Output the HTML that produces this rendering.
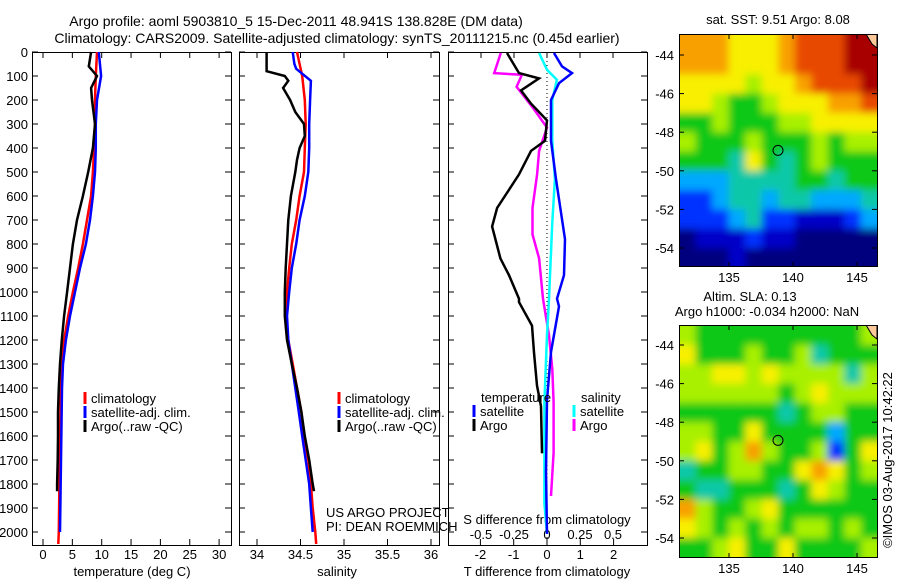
<!DOCTYPE html>
<html><head><meta charset="utf-8">
<style>
html,body{margin:0;padding:0;background:#fff;}
svg{display:block;font-family:"Liberation Sans",sans-serif;}
text{font-size:13px;fill:#000;}
</style></head>
<body>
<svg id="fig" width="900" height="580" viewBox="0 0 900 580" xmlns="http://www.w3.org/2000/svg">
<defs>
<filter id="smooth" filterUnits="userSpaceOnUse" x="600" y="0" width="300" height="580"><feGaussianBlur stdDeviation="4"/></filter>
<clipPath id="clipA"><rect x="679" y="34" width="198" height="233"/></clipPath>
<clipPath id="clipB"><rect x="679" y="325" width="198" height="232"/></clipPath>
</defs>
<text x="296" y="26" text-anchor="middle" style="font-size:14px">Argo profile: aoml 5903810_5 15-Dec-2011 48.941S 138.828E (DM data)</text>
<text x="337" y="43" text-anchor="middle" style="font-size:14px">Climatology: CARS2009. Satellite-adjusted climatology: synTS_20111215.nc (0.45d earlier)</text>
<g id="g"></g>
</svg>
<script>
// ---------- data ----------
const depthT_argo = [0,60,100,150,200,300,400,500,600,700,800,900,1000,1100,1200,1300,1400,1500,1600,1700,1800,1830];
const temp_argo   = [8.2,7.8,9.2,8.2,8.35,8.86,8.5,7.7,6.8,5.8,5.1,4.6,4.1,3.6,3.2,2.9,2.7,2.55,2.55,2.5,2.4,2.4];
const depth_clim  = [0,100,200,300,400,500,600,700,800,900,1000,1100,1200,1300,1400,1600,2000,2050];
const temp_clim   = [9.2,9.0,8.86,8.86,8.7,8.5,8.2,7.5,6.8,6.0,5.1,4.3,3.6,3.2,3.07,2.9,2.7,2.6];
const depth_sat   = [0,100,200,300,400,500,600,700,800,900,1000,1100,1200,1300,1400,2000];
const temp_sat    = [9.5,9.9,9.2,9.0,9.0,8.86,8.5,8.0,7.3,6.3,5.45,4.6,3.9,3.4,3.24,2.9];

const depthS_argo = [0,80,100,120,150,200,250,300,350,400,450,500,600,700,800,900,1000,1100,1200,1300,1400,1500,1600,1700,1800,1830];
const sal_argo    = [34.11,34.11,34.32,34.36,34.30,34.38,34.44,34.54,34.55,34.49,34.46,34.44,34.39,34.36,34.345,34.33,34.32,34.32,34.345,34.40,34.46,34.51,34.55,34.60,34.64,34.655];
const depthS_clim = [0,100,200,300,400,500,600,700,800,900,1000,1100,1200,1300,1400,1500,1600,1700,1800,1900,2000,2050];
const sal_clim    = [34.46,34.52,34.55,34.56,34.55,34.54,34.49,34.45,34.40,34.37,34.345,34.33,34.36,34.41,34.46,34.51,34.54,34.59,34.62,34.64,34.67,34.68];
const depthS_sat  = [0,50,70,120,200,300,400,500,600,700,800,900,1000,1100,1200,1300,1400,1500,1600,1700,1800,1900,2000];
const sal_sat     = [34.41,34.43,34.45,34.62,34.61,34.60,34.60,34.59,34.55,34.49,34.45,34.40,34.37,34.345,34.36,34.40,34.44,34.48,34.52,34.56,34.60,34.62,34.64];

const depthD_targo = [4,88,110,160,215,285,370,412,510,650,727,860,930,1028,1042,1140,1252,1390,1476,1672];
const dT_argo      = [-1.2,-0.84,-0.24,-0.78,-0.48,0,-0.06,-0.48,-0.84,-1.5,-1.65,-1.4,-1.14,-0.84,-0.84,-0.45,-0.39,-0.3,-0.18,-0.15];
const depthD_tsat  = [4,60,88,130,200,370,530,780,930,1028,1060,1250,1450,1750,2008];
const dT_sat       = [0.21,0.45,0.75,0.36,0.12,0.12,0.27,0.54,0.51,0.3,0.36,0.12,0,-0.03,0];
const depthD_sargo = [4,88,95,145,230,315,412,510,650,760,860,1028,1180,1320,1460,1670,1850];
const dS_argo      = [-0.35,-0.4,-0.19,-0.23,-0.11,0,-0.06,-0.075,-0.11,-0.11,-0.06,-0.03,0.015,0.04,0.05,0.05,0.03];
const depthD_ssat  = [4,74,116,200,370,530,710,1028,1180,1460,1880,2008];
const dS_sat       = [-0.06,0,0.075,0.04,0.04,0.06,0.04,0.015,0,-0.02,-0.02,0];

const depthTicks = [0,100,200,300,400,500,600,700,800,900,1000,1100,1200,1300,1400,1500,1600,1700,1800,1900,2000];
const tempTicks = [0,5,10,15,20,25,30];
const salTicks = [34,34.5,35,35.5,36];
const salTickLabels = ["34","34.5","35","35.5","36"];
const dTTicks = [-2,-1,0,1,2];
const dSTicks = [-0.5,-0.25,0,0.25,0.5];
const dSTickLabels = ["-0.5","-0.25","0","0.25","0.5"];
const lonTicks = [135,140,145];
const latTicks = [-44,-46,-48,-50,-52,-54];

// 12 x 12 grids (rows -43 -> -55 lat, cols 131.1 -> 146.6 lon), jet index 0..10
const sstGrid = [
[8,8,8,7,7,7,8,9,9,9,10,10],
[8,8,8,7,7,7,8,9,9,9,10,10],
[7,7,7,7,6,7,7,8,9,9,9,10],
[7,7,6,5,5,6,7,7,7,8,8,9],
[5,5,6,5,5,5,6,6,7,7,7,7],
[6,5,5,5,6,5,5,5,6,5,6,6],
[5,5,5,4,7,5,4,5,6,5,5,5],
[3,3,3,4,4,4,4,5,5,4,5,5],
[2,2,3,4,4,3,4,4,3,3,3,4],
[2,2,2,3,4,2,2,1,1,1,2,3],
[0,1,1,1,2,1,1,0,0,0,0,0],
[0,0,0,1,0,0,0,0,0,0,0,0]];
const slaGrid = [
[6,5,5,5,5,5,5,5,5,5,5,6],
[7,5,5,5,6,5,5,6,4,5,5,5],
[6,6,7,7,6,7,6,6,6,6,4,6],
[6,6,6,6,6,6,5,6,7,6,6,6],
[5,5,5,5,5,5,4,5,6,6,5,5],
[6,6,5,5,7,5,5,5,5,3,5,5],
[6,7,5,6,8,6,5,5,6,2,5,7],
[4,5,5,6,6,5,5,7,8,7,5,6],
[5,4,4,5,5,5,4,5,7,6,5,5],
[8,6,5,5,6,7,5,5,5,5,5,5],
[7,6,5,6,5,6,5,6,6,5,6,5],
[5,5,6,7,5,5,7,5,5,5,5,6]];
const argoLon = 138.828, argoLat = -48.941;

// ---------- helpers ----------
const NS="http://www.w3.org/2000/svg";
const G=document.getElementById('g');
function mk(tag,parent){const e=document.createElementNS(NS,tag);(parent||G).appendChild(e);return e;}
const yD = d => 52 + d*0.24;
const xT = t => 43 + t*5.87;
const xS = s => 257 + (s-34)*87;
const xDT = v => 547 + v*33.3;
const xDS = v => 547 + v*132;
const lonX = l => 729 + (l-135)*12.8;
const latYA = l => 55 + (-44-l)*19.3;
const latYB = l => 345 + (-44-l)*19.3;
const jet=["#00007f","#0000c8","#0030ff","#00a8ff","#10c8a8","#10c818","#a8f000","#f8f000","#f8a000","#e84800","#a80000"];

function poly(xs,ys,fx,color,w,name){
  const p=mk('polyline');
  p.setAttribute('points',xs.map((v,i)=>fx(v).toFixed(1)+','+yD(ys[i]).toFixed(1)).join(' '));
  p.setAttribute('fill','none');p.setAttribute('stroke',color);p.setAttribute('stroke-width',w);
  p.setAttribute('stroke-linejoin','miter');
  
  
}
function txt(x,y,s,anchor,name,size){
  const t=mk('text');t.setAttribute('x',x);t.setAttribute('y',y);
  if(anchor)t.setAttribute('text-anchor',anchor);
  if(size)t.setAttribute('style','font-size:'+size+'px');
  t.textContent=s;
  
  
  return t;
}
function line(x1,y1,x2,y2,name,col,w,dash){
  const l=mk('line');l.setAttribute('x1',x1);l.setAttribute('y1',y1);l.setAttribute('x2',x2);l.setAttribute('y2',y2);
  l.setAttribute('stroke',col||'#000');l.setAttribute('stroke-width',w||1);
  if(dash)l.setAttribute('stroke-dasharray',dash);
  
  
}
function frame(x0,x1,name){
  const r=mk('rect');r.setAttribute('x',x0+0.5);r.setAttribute('y',52.5);r.setAttribute('width',x1-x0);r.setAttribute('height',493);
  r.setAttribute('fill','none');r.setAttribute('stroke','#000');
  
  
  depthTicks.forEach(d=>{line(x0,yD(d),x0+6,yD(d),'depth-tick');line(x1-6,yD(d),x1,yD(d),'depth-tick');});
}
// ---------- panels ----------
frame(32,231,'temperature-panel-frame');
frame(239,439,'salinity-panel-frame');
frame(448,647,'difference-panel-frame');
depthTicks.forEach(d=>txt(28,yD(d)+5,String(d),'end','depth-tick-label'));
tempTicks.forEach(t=>{line(xT(t),52,xT(t),58,'temp-tick');line(xT(t),539,xT(t),545,'temp-tick');txt(xT(t),559,String(t),'middle','temp-tick-label');});
salTicks.forEach((s,i)=>{line(xS(s),52,xS(s),58,'sal-tick');line(xS(s),539,xS(s),545,'sal-tick');txt(xS(s),559,salTickLabels[i],'middle','sal-tick-label');});
dTTicks.forEach(v=>{line(xDT(v),539,xDT(v),545,'dT-tick');txt(xDT(v),559,String(v),'middle','dT-tick-label');});
dSTicks.forEach((v,i)=>{line(xDS(v),52,xDS(v),58,'dS-tick');txt(xDS(v),539,dSTickLabels[i],'middle','dS-tick-label');});
txt(132,576,'temperature (deg C)','middle','temperature-axis-title');
txt(337,576,'salinity','middle','salinity-axis-title');
txt(547,576,'T difference from climatology','middle','dT-axis-title');
txt(547,524,'S difference from climatology','middle','dS-axis-title');

poly(temp_clim,depth_clim,xT,'#ff0000',2.5,'temp-climatology-line');
poly(temp_sat,depth_sat,xT,'#0000ff',2.5,'temp-satellite-line');
poly(temp_argo,depthT_argo,xT,'#000000',2.5,'temp-argo-line');
poly(sal_clim,depthS_clim,xS,'#ff0000',2.5,'sal-climatology-line');
poly(sal_sat,depthS_sat,xS,'#0000ff',2.5,'sal-satellite-line');
poly(sal_argo,depthS_argo,xS,'#000000',2.5,'sal-argo-line');
line(547,53,547,545,'zero-line','#000',1,'1,3');
poly(dS_argo,depthD_sargo,xDS,'#ff00ff',2.5,'dS-argo-line');
poly(dS_sat,depthD_ssat,xDS,'#00ffff',2.5,'dS-satellite-line');
poly(dT_argo,depthD_targo,xDT,'#000000',2.5,'dT-argo-line');
poly(dT_sat,depthD_tsat,xDT,'#0000ff',2.5,'dT-satellite-line');

function legend(x,y,col,label,name){line(x,y-11,x,y+1,name+'-swatch',col,3);txt(x+6,y,label,null,name);}
legend(85,403,'#ff0000','climatology','legend-climatology');
legend(85,417,'#0000ff','satellite-adj. clim.','legend-satellite');
legend(85,431,'#000000','Argo(..raw -QC)','legend-argo');
legend(339,403,'#ff0000','climatology','legend-climatology-2');
legend(339,417,'#0000ff','satellite-adj. clim.','legend-satellite-2');
legend(339,431,'#000000','Argo(..raw -QC)','legend-argo-2');
txt(481,402,'temperature',null,'legend-temperature-header');
legend(474,416,'#0000ff','satellite','legend-t-satellite');
legend(474,430,'#000000','Argo','legend-t-argo');
txt(581,402,'salinity',null,'legend-salinity-header');
legend(574,416,'#00ffff','satellite','legend-s-satellite');
legend(574,430,'#ff00ff','Argo','legend-s-argo');
txt(326,517,'US ARGO PROJECT',null,'credit-project');
txt(326,531,'PI: DEAN ROEMMICH',null,'credit-pi');

// ---------- maps ----------
function map(grid,top,latY,clip,name){
  const g=mk('g');g.setAttribute('clip-path','url(#'+clip+')');
  
  
  const gi=mk('g',g);gi.setAttribute('filter','url(#smooth)');
  const cw=(146.6-131.1)/12;
  grid.forEach((row,r)=>row.forEach((v,c)=>{
    let x0=lonX(131.1+c*cw), x1=lonX(131.1+(c+1)*cw);
    let y0=latY(-43-r), y1=latY(-44-r);
    if(c==0)x0-=15; if(c==11)x1+=15; if(r==0)y0-=15; if(r==11)y1+=15;
    const re=mk('rect',gi);
    re.setAttribute('x',x0);re.setAttribute('y',y0);
    re.setAttribute('width',x1-x0+0.6);re.setAttribute('height',y1-y0+0.6);
    re.setAttribute('fill',jet[v]);
    
    
  }));
  const land=mk('path',g);land.setAttribute('d','M866 '+top+' L877 '+top+' L877 '+(top+14)+' L872 '+(top+10)+' Z');
  land.setAttribute('fill','#fcc89a');land.setAttribute('stroke','#000');
  
  
  const bot=top+233;
  const fr=mk('rect');fr.setAttribute('x',679.5);fr.setAttribute('y',top+0.5);fr.setAttribute('width',198);fr.setAttribute('height',232);
  fr.setAttribute('fill','none');fr.setAttribute('stroke','#000');
  
  
  lonTicks.forEach(l=>{line(lonX(l),top,lonX(l),top+5,'lon-tick');line(lonX(l),bot-5,lonX(l),bot,'lon-tick');txt(lonX(l),bot+15,String(l),'middle','lon-tick-label');});
  latTicks.forEach(l=>{line(679,latY(l),684,latY(l),'lat-tick');line(872,latY(l),877,latY(l),'lat-tick');txt(674,latY(l)+5,String(l),'end','lat-tick-label');});
  const c=mk('circle');c.setAttribute('cx',lonX(argoLon));c.setAttribute('cy',latY(argoLat));c.setAttribute('r',5);
  c.setAttribute('fill','none');c.setAttribute('stroke','#000');
  
  
}
map(sstGrid,34,latYA,'clipA','sst-map');
map(slaGrid,325,latYB,'clipB','sla-map');
txt(778,24,'sat. SST: 9.51 Argo: 8.08','middle','sst-map-title');
txt(750,301,'Altim. SLA: 0.13','middle','sla-map-title');
txt(767,316,'Argo h1000: -0.034 h2000: NaN','middle','sla-map-subtitle');
const st=txt(0,0,'©IMOS 03-Aug-2017 10:42:22','middle','timestamp');
st.setAttribute('transform','translate(892,460) rotate(-90)');
</script>
</body></html>
